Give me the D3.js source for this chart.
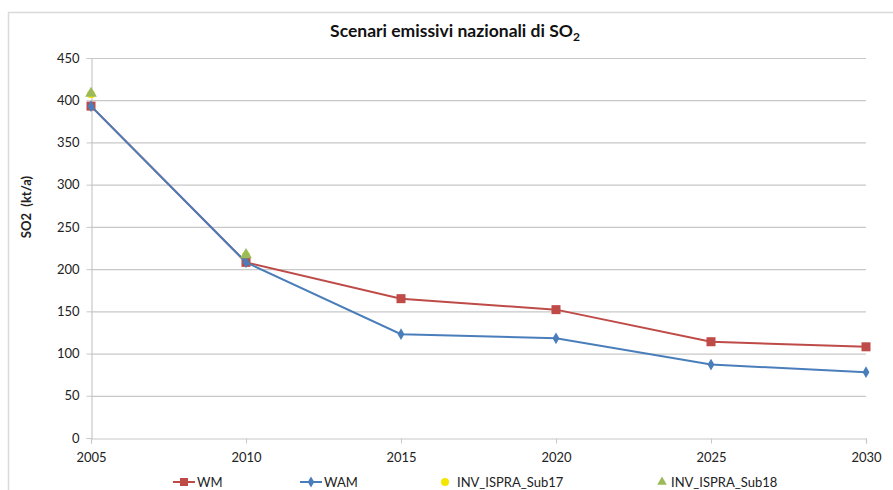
<!DOCTYPE html>
<html>
<head>
<meta charset="utf-8">
<script src="https://cdn.jsdelivr.net/npm/d3@7"></script>
<style>
  html, body { margin: 0; padding: 0; background: #fff; }
  svg { display: block; font-family: Lato, "Open Sans", sans-serif; }
</style>
</head>
<body>
<svg id="chart" width="893" height="490"></svg>
<script>
// Years on the x axis
const years = [2005, 2010, 2015, 2020, 2025, 2030];
// National SO2 emission scenarios (kt/a)
const wm = [393, 208, 165, 152, 114, 108];
const wam = [393, 208, 123, 118, 87, 78];
// Inventory submissions (only first two years)
const sub17Years = [2005, 2010];
const sub17 = [407, 216];
const sub18Years = [2005, 2010];
const sub18 = [408, 217];
const yTicks = [0, 50, 100, 150, 200, 250, 300, 350, 400, 450];

const svg = d3.select("#chart");
const plotLeft = 91, plotRight = 866, plotTop = 58, plotBottom = 438;

const red = "#be4b48", blue = "#4a7ebb", yellow = "#f5e600", green = "#9bbb59";

// Outer chart frame
svg.append("rect").attr("x", 8.5).attr("y", 12.5).attr("width", 900).attr("height", 500)
  .attr("fill", "none").attr("stroke", "#d9d9d9").attr("stroke-width", 1.5);

const x = d3.scaleLinear().domain([2005, 2030]).range([plotLeft, plotRight]);
const y = d3.scaleLinear().domain([0, 450]).range([plotBottom, plotTop]);

// Horizontal gridlines
svg.append("g").selectAll("line").data(yTicks.filter(d => d > 0)).join("line")
  .attr("x1", plotLeft).attr("x2", plotRight)
  .attr("y1", d => y(d) + 0.5).attr("y2", d => y(d) + 0.5)
  .attr("stroke", "#c8c8c8").attr("stroke-width", 1.2);

// Y axis
const yAxis = svg.append("g").attr("transform", `translate(${plotLeft + 0.5},0)`)
  .call(d3.axisLeft(y).tickValues(yTicks).tickSize(5).tickPadding(7));
yAxis.select(".domain").attr("stroke", "#c8c8c8").attr("stroke-width", 1.2);
yAxis.selectAll(".tick line").attr("stroke", "#c8c8c8");
yAxis.selectAll(".tick text").attr("font-size", 13).attr("fill", "#222")
  .attr("font-family", "Lato, sans-serif");

// X axis
const xAxis = svg.append("g").attr("transform", `translate(0,${plotBottom + 0.5})`)
  .call(d3.axisBottom(x).tickValues(years).tickFormat(d3.format("d")).tickSize(5).tickPadding(9));
xAxis.select(".domain").attr("stroke", "#c8c8c8").attr("stroke-width", 1.2);
xAxis.selectAll(".tick line").attr("stroke", "#c8c8c8");
xAxis.selectAll(".tick text").attr("font-size", 13).attr("fill", "#222")
  .attr("font-family", "Lato, sans-serif");

// Y axis title
svg.append("text").attr("transform", "translate(31,207) rotate(-90)")
  .attr("text-anchor", "middle").attr("font-size", 13).attr("font-weight", "bold")
  .attr("fill", "#222").attr("xml:space", "preserve").text("SO2  (kt/a)");

// Chart title with subscript
const title = svg.append("text").attr("x", 455).attr("y", 37).attr("text-anchor", "middle")
  .attr("font-size", 17.5).attr("font-weight", "bold").attr("fill", "#111");
title.append("tspan").text("Scenari emissivi nazionali di SO");
title.append("tspan").attr("font-size", 12).attr("dy", 4).text("2");

const line = d3.line().x(d => x(d[0])).y(d => y(d[1]));
const wmPts = years.map((yr, i) => [yr, wm[i]]);
const wamPts = years.map((yr, i) => [yr, wam[i]]);

// Inventory markers
svg.append("g").selectAll("circle").data(sub17Years.map((yr, i) => [yr, sub17[i]])).join("circle")
  .attr("cx", d => x(d[0])).attr("cy", d => y(d[1])).attr("r", 4).attr("fill", yellow);

const tri = d3.symbol().type(d3.symbolTriangle).size(60);

// WM series
svg.append("path").datum(wmPts).attr("d", line).attr("fill", "none")
  .attr("stroke", red).attr("stroke-width", 2);
svg.append("g").selectAll("rect").data(wmPts).join("rect")
  .attr("x", d => x(d[0]) - 4.5).attr("y", d => y(d[1]) - 4.5)
  .attr("width", 9).attr("height", 9).attr("fill", red);

// WAM series
svg.append("path").datum(wamPts).attr("d", line).attr("fill", "none")
  .attr("stroke", blue).attr("stroke-width", 2);
svg.append("g").selectAll("path").data(wamPts).join("path")
  .attr("d", d3.symbol().type(d3.symbolDiamond).size(40))
  .attr("transform", d => `translate(${x(d[0])},${y(d[1])})`).attr("fill", blue);

svg.append("g").selectAll("path").data(sub18Years.map((yr, i) => [yr, sub18[i]])).join("path")
  .attr("d", tri).attr("transform", d => `translate(${x(d[0])},${y(d[1])})`).attr("fill", green);

// Legend
const ly = 482;
const lg = svg.append("g").attr("font-size", 13).attr("fill", "#222");
// WM
lg.append("line").attr("x1", 173).attr("x2", 195).attr("y1", ly).attr("y2", ly).attr("stroke", red).attr("stroke-width", 2);
lg.append("rect").attr("x", 180).attr("y", ly - 4).attr("width", 8).attr("height", 8).attr("fill", red);
lg.append("text").attr("x", 197).attr("y", ly + 5).text("WM");
// WAM
lg.append("line").attr("x1", 300).attr("x2", 322).attr("y1", ly).attr("y2", ly).attr("stroke", blue).attr("stroke-width", 2);
lg.append("path").attr("d", d3.symbol().type(d3.symbolDiamond).size(36)).attr("transform", `translate(311,${ly})`).attr("fill", blue);
lg.append("text").attr("x", 324).attr("y", ly + 5).text("WAM");
// Sub17
lg.append("circle").attr("cx", 445).attr("cy", ly).attr("r", 4).attr("fill", yellow);
lg.append("text").attr("x", 457).attr("y", ly + 5).text("INV_ISPRA_Sub17");
// Sub18
lg.append("path").attr("d", d3.symbol().type(d3.symbolTriangle).size(40)).attr("transform", `translate(662,${ly})`).attr("fill", green);
lg.append("text").attr("x", 671).attr("y", ly + 5).text("INV_ISPRA_Sub18");
</script>
</body>
</html>
